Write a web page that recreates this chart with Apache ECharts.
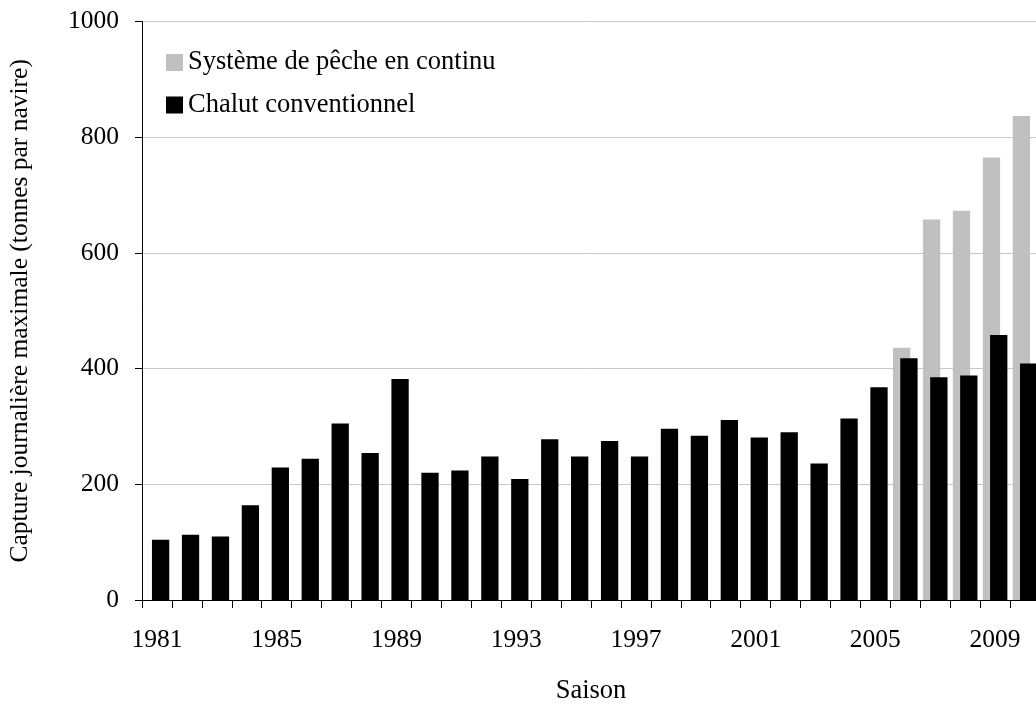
<!DOCTYPE html>
<html>
<head>
<meta charset="utf-8">
<script src="https://cdn.jsdelivr.net/npm/echarts@6/dist/echarts.min.js"></script>
<style>
html,body{margin:0;padding:0;background:#fff;}
#chart{width:1036px;height:705px;}
</style>
</head>
<body>
<div id="chart"></div>
<script>
var years = ['1981','1982','1983','1984','1985','1986','1987','1988','1989','1990',
             '1991','1992','1993','1994','1995','1996','1997','1998','1999','2000',
             '2001','2002','2003','2004','2005','2006','2007','2008','2009','2010'];
var continuValues = [null,null,null,null,null,null,null,null,null,null,
                     null,null,null,null,null,null,null,null,null,null,
                     null,null,null,null,null,436,658,673,765,837];
var chalutValues = [104,113,110,164,229,244,305,254,382,220,
                    224,248,209,278,248,275,248,296,284,311,
                    281,290,236,314,368,418,385,388,458,409];
var seriesNames = ['Système de pêche en continu','Chalut conventionnel'];
var yTicks = {min:0, max:1000, interval:200};

var font = 'Liberation Serif';
var chart = echarts.init(document.getElementById('chart'), null, {renderer:'canvas'});
chart.setOption({
  animation:false,
  backgroundColor:'#ffffff',
  textStyle:{fontFamily:font},
  grid:{left:142, right:-4, top:21.6, bottom:105, containLabel:false, outerBoundsMode:'none'},
  legend:{
    orient:'vertical', left:161, top:44,
    itemWidth:17, itemHeight:17, itemGap:15.5, icon:'rect',
    textStyle:{fontFamily:font, fontSize:26.5, color:'#000', padding:[0,0,0,0]},
    data:seriesNames
  },
  xAxis:{
    type:'category', data:years, boundaryGap:true,
    name:'Saison', nameLocation:'middle', nameGap:78,
    nameTextStyle:{fontFamily:font, fontSize:26.5, color:'#000'},
    axisLine:{lineStyle:{color:'#000', width:1}},
    axisTick:{show:true, interval:0, length:8, lineStyle:{color:'#000'}},
    axisLabel:{interval:3, margin:27, fontFamily:font, fontSize:25.5, color:'#000'},
    splitLine:{show:false}
  },
  yAxis:{
    type:'value', min:yTicks.min, max:yTicks.max, interval:yTicks.interval,
    name:'Capture journalière maximale (tonnes par navire)',
    nameLocation:'middle', nameRotate:90, nameGap:109,
    nameTextStyle:{fontFamily:font, fontSize:25.5, color:'#000'},
    axisLine:{show:true, lineStyle:{color:'#000', width:1}},
    axisTick:{show:true, length:7, lineStyle:{color:'#000'}},
    axisLabel:{margin:23, fontFamily:font, fontSize:25.5, color:'#000',
               formatter:function(v){return String(v);}},
    splitLine:{show:true, lineStyle:{color:'#c8c8c8', width:1}}
  },
  series:[
    {name:seriesNames[0], type:'bar', data:continuValues, barWidth:17.3, barGap:'-58%',
     itemStyle:{color:'#c0c0c0'}},
    {name:seriesNames[1], type:'bar', data:chalutValues, barWidth:17.3, barGap:'-58%',
     itemStyle:{color:'#000000'}}
  ]
});
</script>
</body>
</html>
